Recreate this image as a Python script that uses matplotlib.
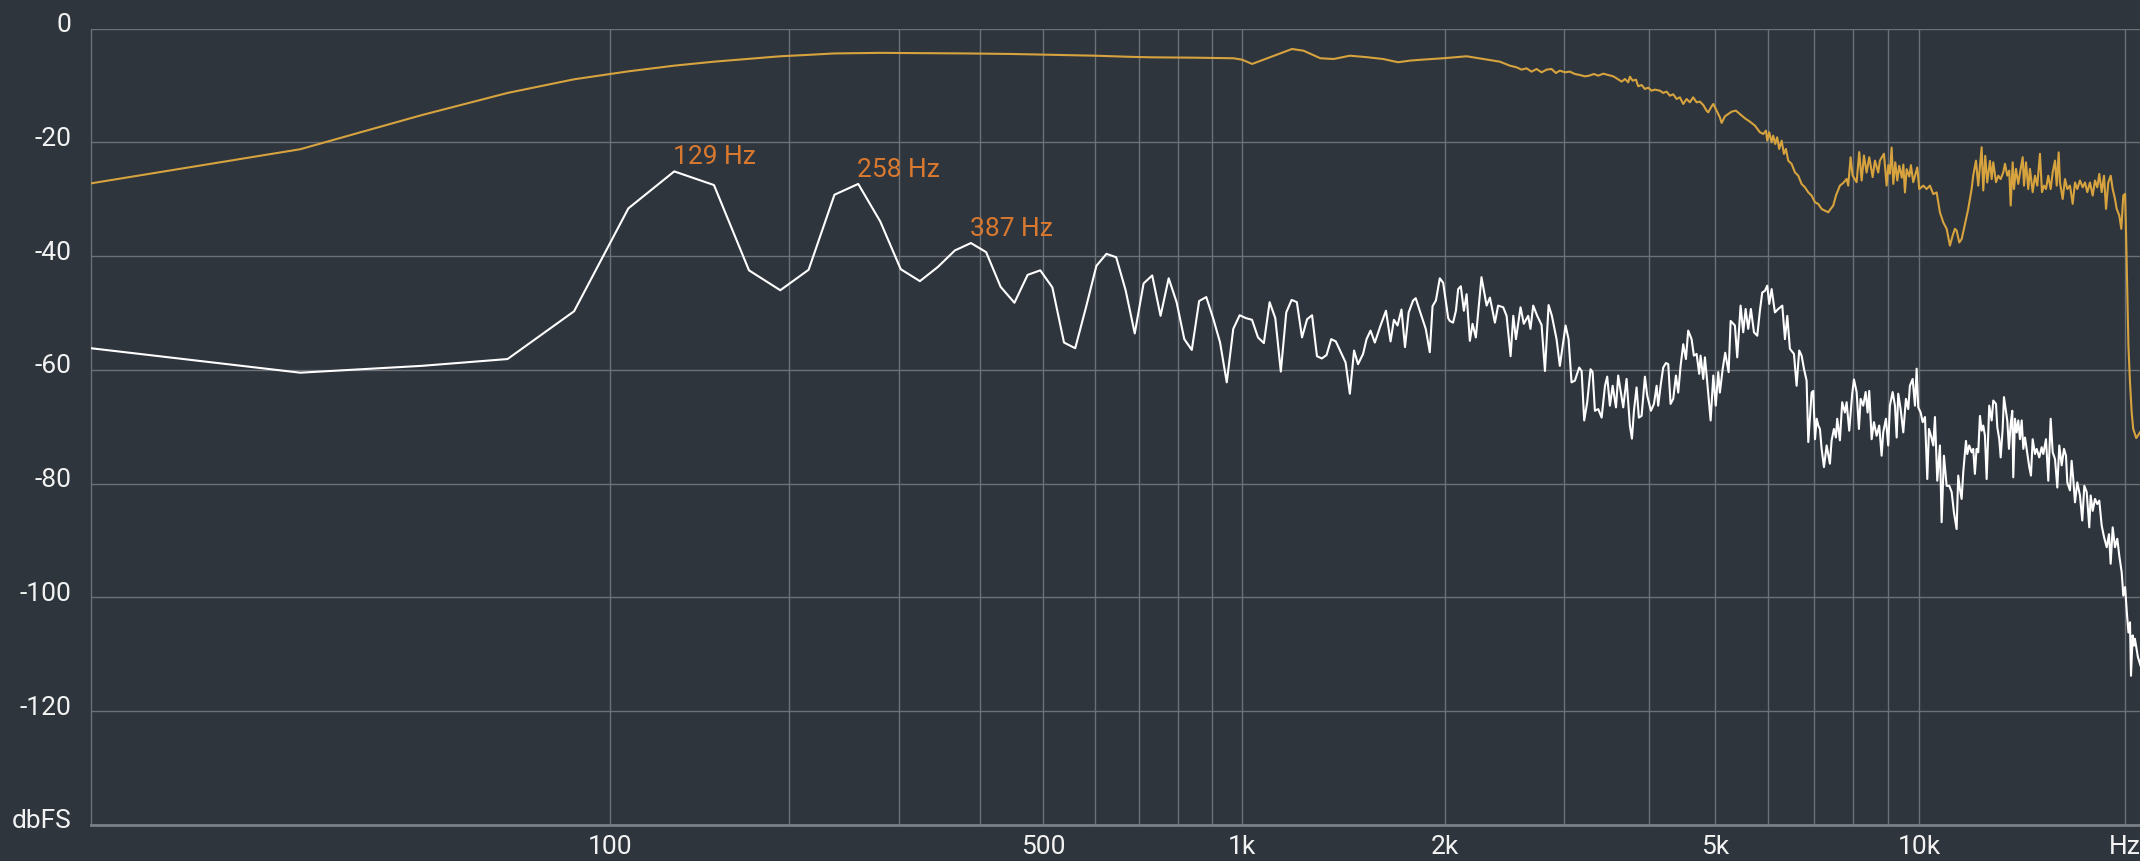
import numpy as np
import matplotlib
matplotlib.use("Agg")
import matplotlib.pyplot as plt
from matplotlib.transforms import ScaledTranslation

# ---------------- data ----------------
BIN_HZ = 44100 / 2048

# white spectrum, one value per FFT bin (0 .. 64)
white_bin_db = [
    -56.2, -60.5, -59.3, -58.1, -49.7, -31.6, -25.1, -27.5, -42.5, -46.0,
    -42.4, -29.2, -27.3, -33.9, -42.3, -44.4, -41.9, -39.0, -37.7, -39.3,
    -45.4, -48.2, -43.3, -42.5, -45.5, -55.2, -56.2, -49.0, -41.7, -39.6,
    -40.2, -46.0, -53.6, -44.8, -43.4, -50.5, -43.9, -48.1, -54.6, -56.5,
    -47.9, -47.2, -51.0, -55.2, -62.2, -52.8, -50.4, -50.9, -51.2, -54.3,
    -55.3, -48.1, -50.9, -60.3, -49.9, -47.7, -48.1, -54.3, -51.1, -50.4,
    -57.6, -58.0, -57.4, -54.6, -55.0]

# white spectrum above 1.4 kHz (Hz, dBFS)
white_1k4_3k = [
    (1425, -58.7), (1446, -64.2), (1467, -56.6), (1487, -59.0), (1513, -57.2), (1531, -54.6),
    (1552, -53.1), (1575, -55.2), (1606, -52.2), (1636, -49.6), (1662, -55.0), (1681, -51.2),
    (1702, -52.2), (1725, -49.4), (1746, -56.0), (1768, -49.9), (1795, -47.8), (1811, -47.4),
    (1836, -49.6), (1874, -52.8), (1900, -56.9), (1918, -48.8), (1940, -47.8), (1966, -43.9),
    (1989, -44.7), (2023, -50.9), (2034, -51.4), (2057, -51.7), (2077, -49.6), (2093, -45.8),
    (2112, -45.3), (2134, -49.6), (2154, -46.7), (2178, -54.9), (2198, -51.9), (2223, -54.3),
    (2266, -43.7), (2306, -48.7), (2332, -47.3), (2372, -51.7), (2398, -48.7), (2440, -49.0),
    (2468, -50.5), (2502, -57.6), (2525, -50.5), (2548, -54.6), (2588, -49.0), (2617, -51.9),
    (2656, -50.5), (2677, -52.8), (2702, -48.7), (2739, -50.5), (2780, -52.1), (2812, -60.2),
    (2847, -48.6), (2879, -50.5), (2925, -54.6), (2958, -59.3)]
white_3k_5k = [
    (3016, -52.2), (3047, -54.6), (3078, -62.2), (3113, -61.9), (3159, -59.6), (3185, -60.2),
    (3213, -68.9), (3246, -65.7), (3283, -59.9), (3306, -60.4), (3332, -67.2), (3370, -66.9),
    (3409, -68.4), (3448, -62.8), (3474, -61.2), (3506, -66.3), (3539, -62.8), (3579, -66.6),
    (3606, -61.0), (3636, -63.7), (3668, -66.6), (3710, -61.6), (3752, -69.8), (3778, -72.1),
    (3804, -67.2), (3838, -63.1), (3868, -68.4), (3904, -68.1), (3948, -61.2), (3979, -64.5),
    (4029, -67.2), (4071, -66.0), (4108, -62.8), (4130, -66.3), (4164, -62.8), (4201, -59.6),
    (4240, -58.8), (4273, -59.0), (4307, -66.0), (4346, -65.1), (4386, -61.0), (4420, -64.0),
    (4456, -59.3), (4496, -55.5), (4537, -58.1), (4572, -53.1), (4625, -54.6), (4661, -57.5),
    (4704, -57.2), (4746, -60.7), (4768, -57.5), (4811, -61.6), (4839, -57.8), (4877, -62.2),
    (4933, -68.9), (4978, -61.0)]
white_5k_7k = [
    (5019, -66.3), (5062, -60.4), (5090, -64.0), (5138, -59.9), (5183, -57.0), (5243, -60.4),
    (5279, -51.4), (5356, -52.2), (5398, -57.8), (5460, -48.7), (5509, -53.4), (5554, -49.3),
    (5603, -52.8), (5654, -49.3), (5713, -53.4), (5777, -54.0), (5829, -49.6), (5875, -46.4),
    (5929, -46.1), (5976, -45.2), (6016, -48.4), (6065, -45.8), (6133, -49.9), (6202, -49.3),
    (6288, -48.7), (6345, -54.6), (6395, -50.5), (6452, -56.3), (6541, -57.2), (6600, -62.8),
    (6658, -56.6), (6713, -57.5), (6766, -59.8), (6827, -61.9), (6866, -72.7), (6944, -64.0),
    (6983, -63.7)]
white_7k_10k = [
    (7024, -72.2), (7064, -68.6), (7103, -69.8), (7142, -70.4), (7183, -73.9), (7240, -77.1),
    (7306, -73.3), (7387, -76.5), (7430, -72.4), (7488, -70.4), (7539, -71.9), (7572, -68.6),
    (7641, -72.4), (7701, -65.7), (7772, -67.5), (7817, -65.7), (7886, -70.7), (7966, -64.2),
    (8013, -61.7), (8086, -63.9), (8149, -70.4), (8196, -65.1), (8269, -66.3), (8336, -63.9),
    (8392, -67.5), (8438, -63.7), (8507, -72.2), (8574, -69.2), (8652, -71.6), (8728, -69.8),
    (8799, -75.1), (8847, -71.0), (8928, -68.6), (8998, -73.3), (9049, -66.3), (9133, -63.9),
    (9205, -66.3), (9258, -71.9), (9308, -64.2), (9383, -66.9), (9467, -71.0), (9553, -65.1),
    (9628, -66.9), (9682, -62.8), (9772, -61.6), (9849, -66.3), (9905, -59.8), (9959, -66.6)]
white_10k_14k = [
    (10040, -67.5), (10109, -69.2), (10188, -68.3), (10268, -79.2), (10327, -70.4), (10398, -71.6),
    (10478, -73.3), (10538, -68.3), (10620, -79.5), (10716, -73.3), (10778, -86.8), (10862, -75.1),
    (10962, -80.4), (11059, -80.4), (11149, -81.5), (11236, -85.1), (11338, -88.0), (11400, -78.6),
    (11466, -81.0), (11532, -82.7), (11595, -78.0), (11702, -72.5), (11753, -74.8), (11832, -73.3),
    (11927, -74.5), (11993, -73.9), (12060, -78.3), (12129, -73.9), (12198, -74.5), (12268, -68.1),
    (12339, -70.7), (12406, -69.8), (12477, -71.6), (12549, -79.2), (12617, -71.0), (12659, -66.3),
    (12764, -68.9), (12833, -65.4), (12952, -66.0), (13009, -70.1), (13096, -72.2), (13158, -75.4),
    (13246, -70.4), (13305, -64.8), (13395, -67.2), (13455, -68.9), (13532, -73.9), (13610, -69.5),
    (13684, -67.2), (13730, -78.9), (13810, -68.6), (13889, -71.0), (13965, -68.9)]
white_14k_21k = [
    (14044, -72.2), (14126, -68.9), (14204, -73.9), (14285, -71.9), (14365, -73.9), (14492, -77.1),
    (14576, -78.6), (14660, -72.2), (14775, -74.8), (14860, -73.9), (14991, -75.4), (15112, -73.6),
    (15195, -74.8), (15335, -72.2), (15454, -79.5), (15579, -68.6), (15686, -74.5), (15809, -75.7),
    (15932, -80.7), (16039, -73.3), (16169, -76.8), (16296, -73.9), (16406, -75.1), (16479, -79.8),
    (16628, -81.2), (16722, -76.0), (16814, -79.2), (16913, -83.3), (17045, -79.8), (17199, -82.1),
    (17334, -86.5), (17454, -80.4), (17595, -81.5), (17749, -87.7), (17833, -82.1), (17955, -84.8),
    (18096, -82.7), (18236, -83.6), (18359, -83.0), (18509, -87.4), (18655, -89.4), (18826, -91.2),
    (18971, -88.9), (19079, -94.1), (19209, -87.7), (19359, -91.2), (19510, -89.7), (19642, -92.7),
    (19802, -95.6), (19910, -99.7), (20031, -98.2), (20147, -102.6), (20258, -106.2), (20365, -104.4),
    (20433, -113.8), (20549, -106.7), (20640, -108.5), (20706, -107.3), (20915, -110.5), (21100, -112.0)]

# yellow spectrum, FFT bins 0 .. 10
yellow_bin_db = [-27.2, -21.2, -15.2, -11.3, -8.9, -7.5, -6.5, -5.8, -5.3, -4.85, -4.6]

# yellow spectrum above 230 Hz (Hz, dBFS)
yellow_low = [
    (237, -4.35), (280, -4.25), (320, -4.3), (380, -4.35), (450, -4.45), (520, -4.6),
    (600, -4.75), (680, -4.95), (727, -5.03), (850, -5.1), (970, -5.2), (999, -5.45),
    (1034, -6.2), (1186, -3.57), (1234, -3.87), (1307, -5.2), (1368, -5.33), (1446, -4.75),
    (1530, -5.0), (1620, -5.33), (1705, -5.9), (1780, -5.6), (1850, -5.45), (1989, -5.2),
    (2154, -4.85), (2279, -5.33), (2412, -5.8), (2496, -6.5)]
yellow_mid = [
    (2553, -6.79), (2597, -7.2), (2641, -6.97), (2687, -7.55), (2733, -7.09), (2780, -7.67),
    (2828, -7.2), (2876, -7.09), (2918, -7.79), (2958, -7.38), (3009, -7.67), (3060, -7.55),
    (3113, -7.97), (3166, -8.14), (3220, -8.38), (3267, -8.26), (3320, -7.97), (3370, -8.26),
    (3428, -7.91), (3486, -8.14), (3546, -8.38), (3587, -8.73), (3648, -9.31), (3690, -8.85),
    (3731, -9.43), (3752, -8.44), (3787, -9.14), (3830, -8.96), (3860, -10.13), (3904, -9.9),
    (3948, -10.6), (3993, -10.37), (4038, -10.9), (4084, -10.72), (4154, -10.9), (4201, -11.3),
    (4249, -11.07), (4297, -11.78), (4346, -11.54), (4396, -12.36), (4445, -12.07), (4496, -13.24),
    (4548, -12.36), (4598, -12.95), (4650, -12.07), (4704, -12.95), (4757, -12.83), (4811, -13.42),
    (4866, -14.41), (4893, -14.71), (4950, -13.65), (4978, -13.24), (5034, -14.41), (5090, -15.59),
    (5120, -16.58), (5178, -15.41), (5236, -15.0), (5297, -14.59), (5374, -14.41), (5447, -15.0),
    (5541, -15.76), (5635, -16.35), (5732, -17.05), (5829, -18.22), (5896, -18.52), (5950, -17.93),
    (5976, -19.69), (6016, -18.22), (6065, -19.98), (6098, -18.81), (6139, -20.28), (6180, -19.1),
    (6222, -21.15), (6273, -19.69), (6323, -22.03), (6366, -21.15), (6415, -23.21), (6490, -23.79),
    (6563, -25.26), (6636, -25.84), (6713, -27.31), (6789, -27.9), (6866, -28.78), (6944, -29.36),
    (7024, -30.53), (7103, -30.83), (7183, -31.71), (7264, -32.0), (7346, -32.29), (7405, -31.71),
    (7471, -31.12), (7539, -29.36), (7641, -27.6), (7728, -27.13), (7817, -26.43), (7859, -27.6),
    (7923, -22.62), (7977, -25.84)]
yellow_8k_12k = [
    (8086, -27.0), (8157, -21.7), (8224, -26.7), (8289, -22.3), (8363, -25.3), (8438, -22.6),
    (8536, -26.1), (8603, -23.2), (8699, -25.3), (8748, -23.2), (8868, -22.0), (8949, -27.6),
    (9000, -24.0), (9049, -25.5), (9102, -20.9), (9153, -27.3), (9215, -23.5), (9277, -26.7),
    (9339, -24.1), (9420, -26.2), (9470, -23.9), (9521, -28.8), (9576, -24.7), (9663, -26.0),
    (9715, -24.0), (9792, -27.0), (9926, -24.4), (9993, -28.2), (10129, -27.6), (10245, -28.2),
    (10360, -27.6), (10478, -29.1), (10598, -28.8), (10716, -32.3), (10837, -34.05), (10962, -35.2),
    (11085, -38.15), (11186, -36.4), (11274, -35.2), (11338, -35.5), (11439, -37.6), (11532, -37.0),
    (11622, -35.2), (11792, -31.7), (11927, -28.2)]
yellow_12k_21k = [
    (11993, -25.85), (12104, -23.2), (12198, -27.6), (12339, -20.85), (12406, -28.45), (12490, -22.35),
    (12574, -27.05), (12690, -23.25), (12764, -26.45), (12833, -23.5), (12952, -27.0), (13052, -25.85),
    (13158, -26.45), (13275, -25.25), (13351, -23.75), (13455, -25.85), (13545, -24.95), (13610, -31.1),
    (13703, -23.5), (13764, -28.2), (13857, -24.65), (13965, -27.3), (14078, -24.65), (14174, -22.6),
    (14237, -27.6), (14333, -23.5), (14444, -28.2), (14526, -24.65), (14660, -28.75), (14775, -25.85),
    (14890, -27.6), (15025, -22.0), (15128, -28.75), (15232, -27.6), (15335, -28.2), (15454, -25.85),
    (15579, -28.2), (15686, -25.25), (15809, -23.2), (15900, -27.6), (16007, -21.75), (16076, -27.05),
    (16225, -29.95), (16352, -26.45), (16479, -28.2), (16628, -27.6), (16782, -30.8), (16913, -27.05),
    (17045, -28.2), (17199, -26.7), (17358, -27.9), (17494, -27.05), (17631, -28.75), (17790, -27.05),
    (17955, -29.35), (18096, -26.7), (18236, -27.9), (18359, -25.55), (18509, -28.75), (18655, -25.85),
    (18781, -31.7), (18926, -27.05), (19079, -25.85), (19209, -28.2), (19359, -29.95), (19471, -31.7),
    (19642, -32.85), (19775, -35.2), (19910, -29.35), (20031, -29.05), (20100, -36.4), (20190, -46.95),
    (20258, -55.75), (20365, -62.2), (20480, -67.45), (20590, -70.4), (20800, -72.0), (21065, -71.0)]

peak_bins = [6, 12, 18]
peak_labels = ["129 Hz", "258 Hz", "387 Hz"]

y_ticks = [-140, -120, -100, -80, -60, -40, -20, 0]
y_labels = ["dbFS", "-120", "-100", "-80", "-60", "-40", "-20", "0"]
x_ticks = [100, 500, 1000, 2000, 5000, 10000, 20000]
x_labels = ["100", "500", "1k", "2k", "5k", "10k", "Hz"]
x_grid = [100, 200, 300, 400, 500, 600, 700, 800, 900,
          1000, 2000, 3000, 4000, 5000, 6000, 7000, 8000, 9000, 10000, 20000]

# ---------------- assemble series ----------------
def join(bin_db, *segments):
    hz = [k * BIN_HZ for k in range(len(bin_db))]
    db = list(bin_db)
    for seg in segments:
        hz += [p[0] for p in seg]
        db += [p[1] for p in seg]
    return np.array(hz), np.array(db)

white_hz, white_db = join(white_bin_db, white_1k4_3k, white_3k_5k, white_5k_7k,
                          white_7k_10k, white_10k_14k, white_14k_21k)
yellow_hz, yellow_db = join(yellow_bin_db, yellow_low, yellow_mid, yellow_8k_12k, yellow_12k_21k)

# ---------------- style ----------------
BG = "#2f353d"
GRID = "#6c7178"
TXT = "#f2f2f2"
YEL = "#d6a33f"
ORG = "#d9792f"

plt.rcParams["font.family"] = ["Roboto", "DejaVu Sans"]

fig = plt.figure(figsize=(21.4, 8.62), dpi=100, facecolor=BG)
ax = fig.add_axes([0.042523, 0.04211, 0.957477, 0.92344], facecolor=BG)

OFF = 21.0
ax.set_xscale("function", functions=(lambda f: np.log10(np.asarray(f, float) + OFF),
                                     lambda v: 10.0 ** np.asarray(v, float) - OFF))
ax.set_xlim(0, 21065)
ax.set_ylim(-140, 0)

ax.plot(yellow_hz, yellow_db, color=YEL, lw=1.5, zorder=3)
ax.plot(white_hz, white_db, color="white", lw=1.5, zorder=4)

for b, lab in zip(peak_bins, peak_labels):
    ax.annotate(lab, xy=(b * BIN_HZ, white_bin_db[b]), xytext=(-1, 6),
                textcoords="offset points", ha="left", va="baseline",
                color=ORG, fontsize=19, zorder=5)

ax.set_xticks(x_ticks, labels=x_labels)
ax.set_xticks(x_grid, minor=True)
ax.set_yticks(y_ticks, labels=y_labels)
ax.grid(True, which="both", axis="x", color=GRID, lw=1.0)
ax.grid(True, which="major", axis="y", color=GRID, lw=1.0)
ax.set_axisbelow(True)
ax.tick_params(axis="both", which="both", length=0, colors=TXT, labelsize=19)
ax.tick_params(axis="x", pad=7)
ax.tick_params(axis="y", pad=14)

off = ScaledTranslation(0, 5 / 72, fig.dpi_scale_trans)
for lab in ax.get_yticklabels():
    lab.set_transform(lab.get_transform() + off)

for side in ("top", "right"):
    ax.spines[side].set_visible(False)
ax.spines["left"].set_color(GRID)
ax.spines["left"].set_linewidth(1.0)
ax.spines["bottom"].set_color("#7a7f86")
ax.spines["bottom"].set_linewidth(2.0)

fig.savefig("out.png", dpi=100, facecolor=BG)
